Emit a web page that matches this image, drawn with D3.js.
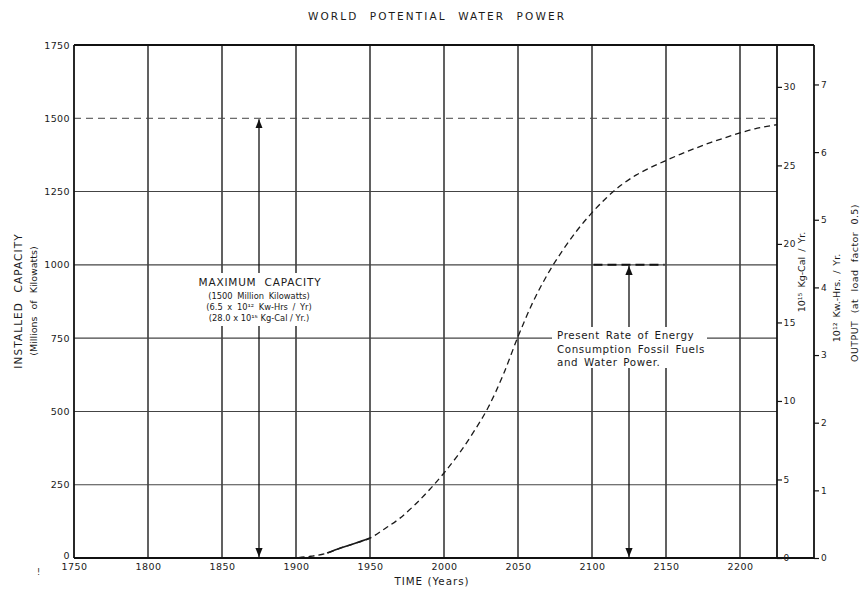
<!DOCTYPE html>
<html><head><meta charset="utf-8">
<script src="https://cdn.jsdelivr.net/npm/d3@7"></script>
<style>
body{margin:0;background:#fff}
svg{display:block}
text{font-family:"DejaVu Sans",sans-serif;fill:#1a1a1a}
</style>
</head><body><svg id="c" width="865" height="589"></svg>
<script>
// ---- data ----
const years    = [1895,1900,1910,1920,1930,1940,1950,1960,1970,1980,1990,2000,2010,2020,2030,2040,2050,2060,2070,2080,2090,2100,2110,2120,2130,2140,2150,2160,2170,2180,2190,2200,2210,2225];
const capacity = [0,1,6,15,34,50,68,100,135,180,232,290,355,430,515,625,755,872,968,1048,1118,1178,1230,1273,1307,1333,1356,1378,1398,1417,1434,1450,1464,1478];
const historicYears = [1921,1930,1940,1950];
const historicCapacity = [17,34,50,68];
const xTicks = [1750,1800,1850,1900,1950,2000,2050,2100,2150,2200];
const yTicks = [0,250,500,750,1000,1250,1500,1750];
const calTicks = [0,5,10,15,20,25,30];
const kwhTicks = [0,1,2,3,4,5,6,7];
const maxCapacity = 1500;
const maxCal = 28.0;     // 10^15 Kg-Cal / Yr at max capacity
const maxKwh = 6.5;      // 10^12 Kw-Hrs / Yr at max capacity
const presentRate = 1000;
const maxArrowYear = 1875;
const presentArrowYear = 2125;
const presentLineYears = [2101,2149];

// ---- layout ----
const svg = d3.select("#c");
const L=74, R=777, T=45, B=558, R2=814;
const x = d3.scaleLinear().domain([1750,2225]).range([L,R]);
const y = d3.scaleLinear().domain([0,1750]).range([B,T]);
const yCal = d3.scaleLinear().domain([0,1750*maxCal/maxCapacity]).range([B,T]);
const yKwh = d3.scaleLinear().domain([0,1750*maxKwh/maxCapacity]).range([B,T]);

svg.append("rect").attr("width",865).attr("height",589).attr("fill","#fff");

// title
svg.append("text").attr("x",437).attr("y",20).attr("text-anchor","middle")
  .style("font-size","10.5px").style("letter-spacing","2.1px").style("word-spacing","6px")
  .text("WORLD POTENTIAL WATER POWER");

// gridlines
const g = svg.append("g");
g.selectAll(".vg").data(xTicks.filter(d=>d>1750)).join("line")
  .attr("x1",d=>x(d)).attr("x2",d=>x(d)).attr("y1",T).attr("y2",B)
  .attr("stroke","#1e1e1e").attr("stroke-width",1.4);
g.selectAll(".hg").data(yTicks.filter(d=>d>0 && d<1750)).join("line")
  .attr("x1",L).attr("x2",R).attr("y1",d=>y(d)).attr("y2",d=>y(d))
  .attr("stroke","#444").attr("stroke-width",d=>d===maxCapacity?1:1.1)
  .attr("stroke-dasharray",d=>d===maxCapacity?"7,5":null);

// curve
const line = d3.line().x(d=>x(d[0])).y(d=>y(d[1])).curve(d3.curveMonotoneX);
svg.append("path").datum(years.map((d,i)=>[d,capacity[i]]))
  .attr("d",line).attr("fill","none").attr("stroke","#1a1a1a").attr("stroke-width",1.3)
  .attr("stroke-dasharray","6,4");
svg.append("path").datum(historicYears.map((d,i)=>[d,historicCapacity[i]]))
  .attr("d",line).attr("fill","none").attr("stroke","#1a1a1a").attr("stroke-width",1.6);

// present-rate dashed segment
svg.append("line").attr("x1",x(presentLineYears[0])).attr("x2",x(presentLineYears[1]))
  .attr("y1",y(presentRate)).attr("y2",y(presentRate))
  .attr("stroke","#111").attr("stroke-width",2).attr("stroke-dasharray","9,5");

// arrows
const defs = svg.append("defs");
defs.append("marker").attr("id","ah").attr("viewBox","0 0 10 10").attr("refX",10).attr("refY",5)
  .attr("markerWidth",7).attr("markerHeight",9).attr("orient","auto-start-reverse")
  .append("path").attr("d","M0,1 L10,5 L0,9 Z").attr("fill","#111");
function arrow(yr, v){
  svg.append("line").attr("x1",x(yr)).attr("x2",x(yr)).attr("y1",y(v)+1).attr("y2",B-1)
    .attr("stroke","#111").attr("stroke-width",1.3)
    .attr("marker-start","url(#ah)").attr("marker-end","url(#ah)");
}
arrow(maxArrowYear, maxCapacity);
arrow(presentArrowYear, presentRate);

// annotation 1
const a1x = x(maxArrowYear);
svg.append("rect").attr("x",a1x-66).attr("y",273).attr("width",134).attr("height",53).attr("fill","#fff");
const a1 = svg.append("g").attr("text-anchor","middle");
a1.append("text").attr("x",a1x+1).attr("y",286).style("font-size","10.5px").style("letter-spacing","0.8px").style("word-spacing","4px").text("MAXIMUM CAPACITY");
a1.append("text").attr("x",a1x).attr("y",299).style("font-size","8.3px").style("word-spacing","2px").text("(1500 Million Kilowatts)");
a1.append("text").attr("x",a1x).attr("y",310).style("font-size","8.3px").style("word-spacing","2px").text("(6.5 x 10¹² Kw-Hrs / Yr)");
a1.append("text").attr("x",a1x).attr("y",321).style("font-size","8.3px").text("(28.0 x 10¹⁵ Kg-Cal / Yr.)");

// annotation 2
svg.append("rect").attr("x",552).attr("y",327).attr("width",155).attr("height",41).attr("fill","#fff");
const a2 = svg.append("g").attr("text-anchor","start").style("font-size","10.3px").style("letter-spacing","0.6px").style("word-spacing","2px");
a2.append("text").attr("x",557).attr("y",339).text("Present Rate of Energy");
a2.append("text").attr("x",557).attr("y",353).text("Consumption Fossil Fuels");
a2.append("text").attr("x",557).attr("y",366).text("and Water Power.");

// frame
const fr = svg.append("g").attr("stroke","#111").attr("stroke-width",1.8).attr("fill","none");
fr.append("line").attr("x1",L).attr("x2",R2).attr("y1",T).attr("y2",T);
fr.append("line").attr("x1",L).attr("x2",R2).attr("y1",B).attr("y2",B);
fr.append("line").attr("x1",L).attr("x2",L).attr("y1",T).attr("y2",B);
fr.append("line").attr("x1",R).attr("x2",R).attr("y1",T).attr("y2",B);
fr.append("line").attr("x1",R2).attr("x2",R2).attr("y1",T).attr("y2",B);

// axes
function styleAx(fs){ return sel=>{ sel.select(".domain").remove(); sel.selectAll("text").style("font-family","DejaVu Sans").style("font-size",fs).style("letter-spacing","0.4px").attr("fill","#1a1a1a"); sel.selectAll(".tick line").attr("stroke","#111").attr("stroke-width",1.2);}; }
const ay = svg.append("g").attr("transform",`translate(${L},0)`)
  .call(d3.axisLeft(y).tickValues(yTicks).tickSize(0).tickPadding(4).tickFormat(d3.format("d"))).call(styleAx("9.5px"));
ay.selectAll(".tick text").filter(d=>d===0).attr("dy","0.05em");
svg.append("g").attr("transform",`translate(0,${B})`)
  .call(d3.axisBottom(x).tickValues(xTicks).tickSize(0).tickPadding(5).tickFormat(d3.format("d"))).call(styleAx("9.5px"));
svg.append("g").attr("transform",`translate(${R},0)`)
  .call(d3.axisRight(yCal).tickValues(calTicks).tickSize(5).tickPadding(1.5)).call(styleAx("9px"));
svg.append("g").attr("transform",`translate(${R2},0)`)
  .call(d3.axisRight(yKwh).tickValues(kwhTicks).tickSize(5).tickPadding(2)).call(styleAx("9px"));

// axis titles
svg.append("text").attr("transform","translate(22,301) rotate(-90)").attr("text-anchor","middle")
  .style("font-size","10.5px").style("letter-spacing","1.1px").style("word-spacing","5px").text("INSTALLED CAPACITY");
svg.append("text").attr("transform","translate(37,301) rotate(-90)").attr("text-anchor","middle")
  .style("font-size","9.5px").style("word-spacing","4px").text("(Millions of Kilowatts)");
svg.append("text").attr("x",432).attr("y",585).attr("text-anchor","middle")
  .style("font-size","10.3px").style("letter-spacing","1px").text("TIME (Years)");
svg.append("text").attr("transform","translate(805,272) rotate(-90)").attr("text-anchor","middle")
  .style("font-size","9.5px").style("word-spacing","2px").text("10¹⁵ Kg-Cal / Yr.");
svg.append("text").attr("transform","translate(840,298) rotate(-90)").attr("text-anchor","middle")
  .style("font-size","9.5px").style("word-spacing","2px").text("10¹² Kw.-Hrs. / Yr.");
svg.append("text").attr("transform","translate(858,283) rotate(-90)").attr("text-anchor","middle")
  .style("font-size","9.5px").style("letter-spacing","0.4px").style("word-spacing","4px").text("OUTPUT (at load factor 0.5)");
svg.append("text").attr("x",37).attr("y",575).style("font-size","8px").text("!");
</script>
</body></html>
